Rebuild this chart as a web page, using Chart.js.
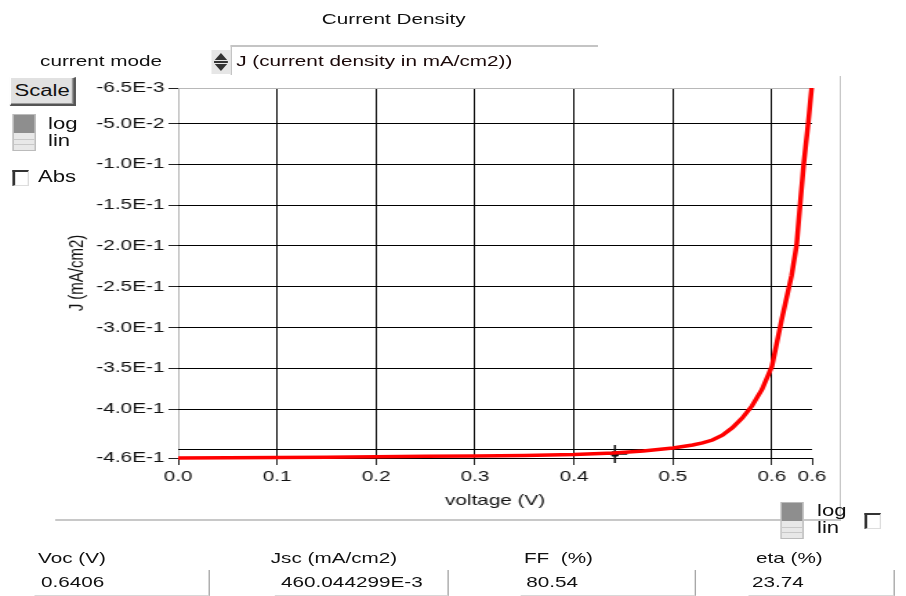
<!DOCTYPE html>
<html>
<head>
<meta charset="utf-8">
<script src="https://cdn.jsdelivr.net/npm/chart.js@4.4.1/dist/chart.umd.min.js"></script>
<style>
  body { margin: 0; background: #fff; font-family: "Liberation Sans", Arial, sans-serif; color: #111; overflow: hidden; }
  /* the panel is laid out 656px wide and stretched to fill the 906px window */
  #panel { position: relative; width: 656px; height: 596px; transform: scaleX(1.381); transform-origin: 0 0; }
  .lbl { position: absolute; font-size: 15px; white-space: nowrap; line-height: 18px; }
  #jv { position: absolute; left: 0; top: 60px; }
  .btn { position: absolute; left: 7px; top: 77px; width: 45px; height: 26px; background: #e1e1e1;
         border-top: 1px solid #fff; border-left: 1px solid #fff; border-right: 2px solid #555; border-bottom: 2px solid #555;
         box-shadow: inset -1px -1px 0 #999; font-size: 16px; text-align: center; line-height: 26px; }
  .toggle { position: absolute; width: 15px; height: 35px; border: 1px solid #bbb; background: #e8e8e8; }
  .toggle .dark { position: absolute; left: 0; top: 0; width: 15px; height: 18px; background: #8e8e8e; }
  .toggle .stripe { position: absolute; left: 0; width: 15px; height: 1px; background: #c8c8c8; }
  .check { position: absolute; width: 9px; height: 13px; border-top: 2px solid #333; border-left: 2px solid #333;
           border-right: 1px solid #ddd; border-bottom: 1px solid #ddd; background: #fff; }
  .field { position: absolute; top: 570px; height: 25px; border-right: 1px solid #a8a8a8; border-bottom: 1px solid #d8d8d8; }
  .hline { position: absolute; height: 2px; background: #c8c8c8; }
  .vline { position: absolute; width: 1.5px; background: #c8c8c8; }
</style>
</head>
<body>
<div id="panel">
  <div class="lbl" style="left:233px; top:10px;">Current Density</div>

  <div class="lbl" style="left:29px; top:52px;">current mode</div>
  <svg style="position:absolute; left:153px; top:50px;" width="14" height="24">
    <rect x="0" y="0" width="14" height="24" fill="#e6e6e6"/>
    <polygon points="2.5,10 7,3 11.5,10" fill="#333"/>
    <polygon points="2.5,14 7,21 11.5,14" fill="#333"/>
    <rect x="2" y="11" width="10" height="2" fill="#333"/>
  </svg>
  <div class="hline" style="left:166.5px; top:45px; width:266.5px; background:#c4c4c4;"></div>
  <div class="vline" style="left:166.5px; top:45px; height:30px; background:#c4c4c4;"></div>
  <div class="lbl" style="left:171px; top:52px; color:#1a0808;">J (current density in mA/cm2))</div>

  <div class="btn">Scale</div>

  <div class="toggle" style="left:8.7px; top:114px;">
    <div class="dark"></div>
    <div class="stripe" style="top:24px;"></div>
    <div class="stripe" style="top:29px;"></div>
  </div>
  <div class="lbl" style="left:34.8px; top:115px; font-size:16px;">log</div>
  <div class="lbl" style="left:34.8px; top:132px; font-size:16px;">lin</div>

  <div class="check" style="left:8.7px; top:170px;"></div>
  <div class="lbl" style="left:27.5px; top:168px; font-size:16px;">Abs</div>

  <canvas id="jv" width="608" height="460"></canvas>

  <div class="vline" style="left:607.5px; top:76px; height:445px;"></div>
  <div class="hline" style="left:40px; top:519px; width:569px;"></div>

  <div class="toggle" style="left:565px; top:502px;">
    <div class="dark"></div>
    <div class="stripe" style="top:24px;"></div>
    <div class="stripe" style="top:29px;"></div>
  </div>
  <div class="lbl" style="left:591.6px; top:502px; font-size:16px;">log</div>
  <div class="lbl" style="left:591.6px; top:519px; font-size:16px;">lin</div>
  <div class="check" style="left:626px; top:513px;"></div>

  <div class="lbl" style="left:27.5px; top:549px;">Voc (V)</div>
  <div class="lbl" style="left:196px; top:549px;">Jsc (mA/cm2)</div>
  <div class="lbl" style="left:379.4px; top:549px;">FF&nbsp; (%)</div>
  <div class="lbl" style="left:547.4px; top:549px;">eta (%)</div>

  <div class="field" style="left:25.3px; width:126px;"></div>
  <div class="field" style="left:199px; width:125.3px;"></div>
  <div class="field" style="left:376.5px; width:126.7px;"></div>
  <div class="field" style="left:541.6px; width:105px;"></div>
  <div class="lbl" style="left:29.7px; top:573px;">0.6406</div>
  <div class="lbl" style="left:203.5px; top:573px;">460.044299E-3</div>
  <div class="lbl" style="left:381px; top:573px;">80.54</div>
  <div class="lbl" style="left:544.5px; top:573px;">23.74</div>
</div>

<script>
// J-V curve (voltage in V, current density in mA/cm2)
const voltage = [0.00, 0.05, 0.10, 0.15, 0.20, 0.25, 0.30, 0.35, 0.40, 0.44, 0.47, 0.50, 0.52, 0.53,
                 0.54, 0.55, 0.56, 0.57, 0.58, 0.59, 0.60, 0.61, 0.62, 0.625, 0.6285, 0.6323, 0.6367, 0.6402];
const currentDensity = [-0.4600, -0.4598, -0.4594, -0.4590, -0.4586, -0.4580, -0.4575, -0.4568, -0.4557,
                        -0.4540, -0.4515, -0.4477, -0.4440, -0.4415, -0.4380, -0.4320, -0.4230, -0.4110,
                        -0.3960, -0.3760, -0.3480, -0.2900, -0.2360, -0.1990, -0.1500, -0.0984, -0.0498, -0.0065];

// cursor position on the curve
const cursorV = [0.4414];
const cursorJ = [-0.4550];

// axis ticks
const xTickValues = [0.0, 0.1, 0.2, 0.3, 0.4, 0.5, 0.6, 0.6406];
const yTickValues = [-0.0065, -0.05, -0.10, -0.15, -0.20, -0.25, -0.30, -0.35, -0.40, -0.45, -0.46];
const yTickLabels = ['-6.5E-3', '-5.0E-2', '-1.0E-1', '-1.5E-1', '-2.0E-1', '-2.5E-1', '-3.0E-1',
                     '-3.5E-1', '-4.0E-1', '', '-4.6E-1'];

Chart.defaults.font.family = '"Liberation Sans", Arial, sans-serif';
Chart.defaults.font.size = 15;
Chart.defaults.color = '#111';

const curve = voltage.map((v, i) => ({ x: v, y: currentDensity[i] }));
const cursor = cursorV.map((v, i) => ({ x: v, y: cursorJ[i] }));

new Chart(document.getElementById('jv'), {
    type: 'scatter',
    data: {
        datasets: [{
            data: curve,
            showLine: true,
            borderColor: '#ff0000',
            borderWidth: 3.5,
            pointRadius: 0,
            tension: 0,
            clip: false
        }, {
            data: cursor,
            pointStyle: 'cross',
            pointRadius: 9,
            borderColor: '#111',
            borderWidth: 1.5,
            clip: false
        }, {
            data: cursor,
            pointStyle: 'rect',
            pointRadius: 3,
            backgroundColor: '#111',
            borderColor: '#111',
            borderWidth: 1,
            clip: false
        }]
    },
    options: {
        responsive: false,
        animation: false,
        devicePixelRatio: 1,
        layout: { padding: { top: 28, right: 20, left: 0, bottom: 0 } },
        plugins: { legend: { display: false }, tooltip: { enabled: false } },
        scales: {
            x: {
                type: 'linear',
                min: 0,
                max: 0.6406,
                afterBuildTicks: scale => { scale.ticks = xTickValues.map(v => ({ value: v })); },
                afterFit: scale => { scale.height = 62; },
                ticks: {
                    autoSkip: false,
                    maxRotation: 0,
                    padding: 3,
                    color: '#111',
                    callback: value => value.toFixed(1)
                },
                grid: {
                    color: ctx => ctx.index === 0 ? '#b8b8b8' : (ctx.index === xTickValues.length - 1 ? 'rgba(0,0,0,0)' : '#000'),
                    tickColor: '#222',
                    tickLength: 7,
                    lineWidth: 1
                },
                border: { display: false },
                title: {
                    display: true,
                    text: 'voltage (V)',
                    color: '#111',
                    padding: { top: 4, bottom: 10 }
                }
            },
            y: {
                type: 'linear',
                min: -0.46,
                max: -0.0065,
                afterBuildTicks: scale => { scale.ticks = yTickValues.map(v => ({ value: v })); },
                afterFit: scale => { scale.width = 129; },
                ticks: {
                    autoSkip: false,
                    padding: 3,
                    color: '#111',
                    callback: (value, index) => yTickLabels[index]
                },
                grid: {
                    color: ctx => ctx.index === 0 ? '#b8b8b8' : '#000',
                    tickColor: ctx => yTickLabels[ctx.index] === '' ? 'rgba(0,0,0,0)' : '#222',
                    tickLength: 7,
                    lineWidth: 1
                },
                border: { display: false },
                title: {
                    display: true,
                    text: 'J (mA/cm2)',
                    color: '#111',
                    padding: { top: 47, bottom: 0 }
                }
            }
        }
    }
});
</script>
</body>
</html>
